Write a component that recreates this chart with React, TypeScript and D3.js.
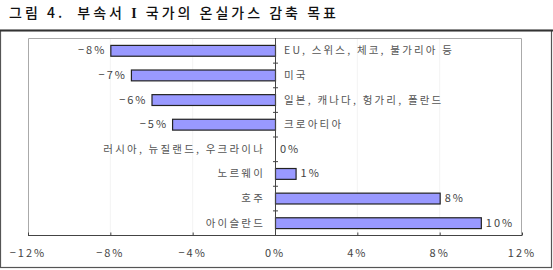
import React, { useRef, useEffect } from "react";
import * as d3 from "d3";

const categories = [
  "EU, 스위스, 체코, 불가리아 등",
  "미국",
  "일본, 캐나다, 헝가리, 폴란드",
  "크로아티아",
  "러시아, 뉴질랜드, 우크라이나",
  "노르웨이",
  "호주",
  "아이슬란드",
];
const values = [-8, -7, -6, -5, 0, 1, 8, 10];
const tickValues = [-12, -8, -4, 0, 4, 8, 12];
const titleParts = ["그림 4.  부속서 ", "I", " 국가의 온실가스 감축 목표"];

const W = 553;
const H = 270;
const FONT = "'Noto Sans CJK KR', 'Noto Sans', sans-serif";

const App = () => {
  const svgRef = useRef<SVGSVGElement>(null);

  useEffect(() => {
    const svg = d3.select(svgRef.current);
    svg.selectAll("*").remove();

    const plot = { left: 28, right: 522, top: 38, bottom: 235 };

    const x = d3.scaleLinear().domain([-12, 12]).range([plot.left, plot.right]);
    const y = d3
      .scaleBand()
      .domain(categories)
      .range([plot.top, plot.bottom])
      .paddingInner(0.56)
      .paddingOuter(0.28);

    // title
    const t = svg
      .append("text")
      .attr("x", 9)
      .attr("y", 18)
      .attr("font-family", FONT)
      .attr("font-size", 14)
      .attr("font-weight", 500)
      .attr("fill", "#111")
      .attr("xml:space", "preserve")
      .style("letter-spacing", "3px");
    titleParts.forEach((p, i) => {
      t.append("tspan")
        .attr("font-family", i === 1 ? "'Liberation Serif', serif" : FONT)
        .attr("font-weight", i === 1 ? 700 : 500)
        .text(p);
    });

    // outer frame
    svg
      .append("rect")
      .attr("x", 0.5)
      .attr("y", 30.5)
      .attr("width", 551)
      .attr("height", 237)
      .attr("fill", "white")
      .attr("stroke", "#555")
      .attr("stroke-width", 1.2);
    svg
      .append("line")
      .attr("x1", 0)
      .attr("x2", W)
      .attr("y1", 30.5)
      .attr("y2", 30.5)
      .attr("stroke", "#333")
      .attr("stroke-width", 1.8);

    // faint grid
    svg
      .append("g")
      .selectAll("line")
      .data(tickValues.filter((t) => t !== 0 && Math.abs(t) !== 12))
      .join("line")
      .attr("x1", (d) => x(d))
      .attr("x2", (d) => x(d))
      .attr("y1", plot.top)
      .attr("y2", plot.bottom)
      .attr("stroke", "#f3f3f3");

    // plot area border (light)
    svg
      .append("path")
      .attr(
        "d",
        `M${plot.left + 0.5},${plot.bottom} V${plot.top + 0.5} H${plot.right - 0.5} V${plot.bottom}`
      )
      .attr("fill", "none")
      .attr("stroke", "#aaa");

    // x axis
    const xAxis = svg
      .append("g")
      .attr("transform", `translate(0, ${plot.bottom + 0.5})`)
      .call(
        d3
          .axisTop(x)
          .tickValues(tickValues)
          .tickSize(3)
          .tickFormat(() => "")
      );
    xAxis.select(".domain").attr("stroke", "#444").attr("d", `M${plot.left},0H${plot.right}`);
    xAxis.selectAll(".tick line").attr("stroke", "#444");

    svg
      .append("g")
      .selectAll("text")
      .data(tickValues)
      .join("text")
      .attr("x", (d) => x(d))
      .attr("y", 257)
      .attr("text-anchor", "middle")
      .attr("font-family", FONT)
      .attr("font-size", 11)
      .attr("fill", "#444")
      .style("letter-spacing", "2px")
      .text((d) => (d < 0 ? "−" + Math.abs(d) : d) + "%");

    // bars
    svg
      .append("g")
      .selectAll("rect")
      .data(values)
      .join("rect")
      .attr("x", (d) => Math.min(x(d), x(0)) + 0.5)
      .attr("y", (d, i) => (y(categories[i]) as number) + 0.5)
      .attr("width", (d) => Math.abs(x(d) - x(0)))
      .attr("height", y.bandwidth())
      .attr("fill", "#9999ff")
      .attr("stroke", "#222")
      .attr("stroke-width", 1.2);

    // zero axis with crossing ticks
    svg
      .append("line")
      .attr("x1", x(0) + 0.5)
      .attr("x2", x(0) + 0.5)
      .attr("y1", plot.top)
      .attr("y2", plot.bottom)
      .attr("stroke", "#444");
    const step = y.step();
    svg
      .append("g")
      .selectAll("line")
      .data(d3.range(1, categories.length))
      .join("line")
      .attr("x1", x(0) - 2)
      .attr("x2", x(0) + 3)
      .attr("y1", (d) => plot.top + d * step + 0.5)
      .attr("y2", (d) => plot.top + d * step + 0.5)
      .attr("stroke", "#444");

    // value labels
    const mid = (i) => (y(categories[i]) as number) + y.bandwidth() / 2 + 4;
    svg
      .append("g")
      .selectAll("text")
      .data(values)
      .join("text")
      .attr("x", (d) => (d < 0 ? x(d) - 4 : x(d) + 5))
      .attr("y", (d, i) => mid(i))
      .attr("text-anchor", (d) => (d < 0 ? "end" : "start"))
      .attr("font-family", FONT)
      .attr("font-size", 11)
      .attr("fill", "#444")
      .style("letter-spacing", "2px")
      .text((d) => (d < 0 ? "−" + Math.abs(d) : d) + "%");

    // category labels
    svg
      .append("g")
      .selectAll("text")
      .data(categories)
      .join("text")
      .attr("x", (d, i) => (values[i] < 0 ? x(0) + 9 : x(0) - 10))
      .attr("y", (d, i) => mid(i))
      .attr("text-anchor", (d, i) => (values[i] < 0 ? "start" : "end"))
      .attr("font-family", FONT)
      .attr("font-size", 10.5)
      .attr("fill", "#555")
      .style("letter-spacing", "2.2px")
      .text((d) => d);
  }, []);

  return (
    <svg
      ref={svgRef}
      width={W}
      height={H}
      style={{ position: "absolute", left: 0, top: 0, background: "white" }}
    ></svg>
  );
};

export default App;
